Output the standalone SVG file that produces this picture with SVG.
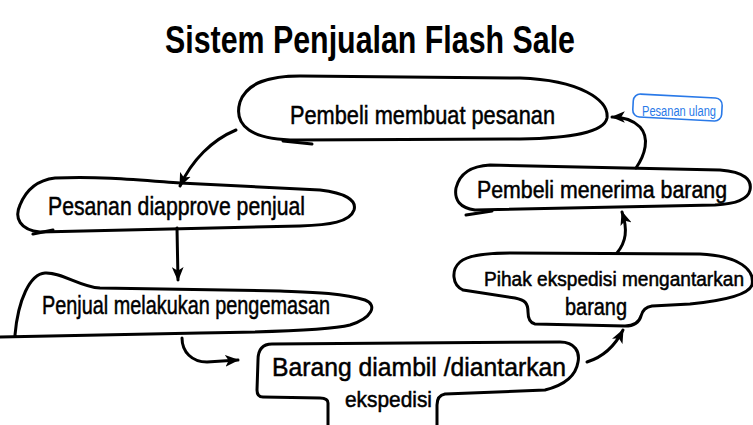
<svg xmlns="http://www.w3.org/2000/svg" width="753" height="425" viewBox="0 0 753 425">
<style>
.bg{fill:#fff}
.node path{fill:none;stroke:#000;stroke-width:3;stroke-linecap:round;stroke-linejoin:round}
.conn path{fill:none;stroke:#000;stroke-width:3;stroke-linecap:round}
text{font-family:"Liberation Sans",Arial,sans-serif;fill:#000}
.t{font-size:26px;stroke:#000;stroke-width:0.5}
.title{font-size:38px;font-weight:bold}
.lbl{fill:#2979e8;font-size:14px}
</style>
<defs>
<marker id="ah" viewBox="0 0 12 10" refX="11" refY="5" markerWidth="14" markerHeight="12" orient="auto" markerUnits="userSpaceOnUse">
<path d="M0,0 L12,5 L0,10 L3,5 Z" fill="#000"/>
</marker>
</defs>
<rect class="bg" width="753" height="425"/>
<text class="title" x="165" y="53" textLength="410" lengthAdjust="spacingAndGlyphs">Sistem Penjualan Flash Sale</text>

<g id="node1" class="node">
<path d="M297 140 C252 140 233 126 240 102 C247 82 270 76 300 76 L520 78 C580 80 609 100 607 118 C604 133 570 138 520 139 L297 140"/>
<path d="M283 141 L312 144"/>
<text class="t" x="290" y="124" textLength="265" lengthAdjust="spacingAndGlyphs">Pembeli membuat pesanan</text>
</g>

<g id="node2" class="node">
<path d="M40 232 C20 230 14 218 20 205 C26 190 38 180 55 178 C100 176 140 180 180 183 L320 190 C345 193 357 200 354 210 C350 222 330 225 300 226 L40 232"/>
<path d="M33 234 L53 230"/>
<text class="t" x="48" y="215" textLength="257" lengthAdjust="spacingAndGlyphs">Pesanan diapprove penjual</text>
</g>

<g id="node3" class="node">
<path d="M0 337 L200 333 C280 332 330 330 350 325 C372 318 378 305 365 300 C340 292 300 292 280 291 L100 288 C80 287 62 272 45 273 C30 274 18 300 15 335"/>
<text class="t" x="42" y="314" textLength="288" lengthAdjust="spacingAndGlyphs">Penjual melakukan pengemasan</text>
</g>

<g id="node4" class="node">
<path d="M328 425 L328 403 C328 399 325 398 320 398 L263 397 C259 397 257 395 257 390 L258 360 C258 350 262 344 272 344 L560 342 C575 342 580 352 578 362 C576 375 565 385 545 390 L445 394 C440 395 437 398 437 405 L437 425"/>
<text class="t" x="272" y="376" textLength="294" lengthAdjust="spacingAndGlyphs">Barang diambil /diantarkan</text>
<text class="t" x="345" y="407" style="font-size:22px" textLength="87" lengthAdjust="spacingAndGlyphs">ekspedisi</text>
</g>

<g id="node5" class="node">
<path d="M463 290 C452 285 451 270 460 262 C468 255 490 253 510 253 L700 254 C740 256 755 270 752 285 C748 296 720 301 690 304 L652 306 C645 307 642 312 641 316 C639 323 634 326 625 326 L535 324 C530 323 528 318 528 312 C528 303 525 300 515 298 L463 290"/>
<text class="t" x="484" y="286" style="font-size:19.5px" textLength="260" lengthAdjust="spacingAndGlyphs">Pihak ekspedisi mengantarkan</text>
<text class="t" x="565" y="315" style="font-size:23px" textLength="62" lengthAdjust="spacingAndGlyphs">barang</text>
</g>

<g id="node6" class="node">
<path d="M475 210 C460 208 454 200 456 188 C460 172 472 166 490 165 L720 170 C745 172 752 180 750 190 C748 200 735 204 715 205 L475 210"/>
<path d="M466 215 L492 211"/>
<text class="t" x="477" y="198" style="font-size:23px" textLength="250" lengthAdjust="spacingAndGlyphs">Pembeli menerima barang</text>
</g>

<g id="label-pesanan-ulang">
<rect x="633" y="96" width="89" height="23" rx="7" fill="none" stroke="#2979e8" stroke-width="1.6" transform="rotate(3 677 107)"/>
<text class="lbl" x="642" y="116" textLength="74" lengthAdjust="spacingAndGlyphs">Pesanan ulang</text>
</g>

<g id="connectors" class="conn">
<path d="M236 130 C212 140 192 160 180 186" marker-end="url(#ah)"/>
<path d="M177 228 L178 280" marker-end="url(#ah)"/>
<path d="M182 338 C182 352 192 362 207 362 L238 360" marker-end="url(#ah)"/>
<path d="M587 362 C603 357 615 346 623 330" marker-end="url(#ah)"/>
<path d="M617 253 C626 242 628 230 622 212" marker-end="url(#ah)"/>
<path d="M636 168 C645 155 650 138 640 127 C633 120 625 117 612 117" marker-end="url(#ah)"/>
</g>
</svg>
